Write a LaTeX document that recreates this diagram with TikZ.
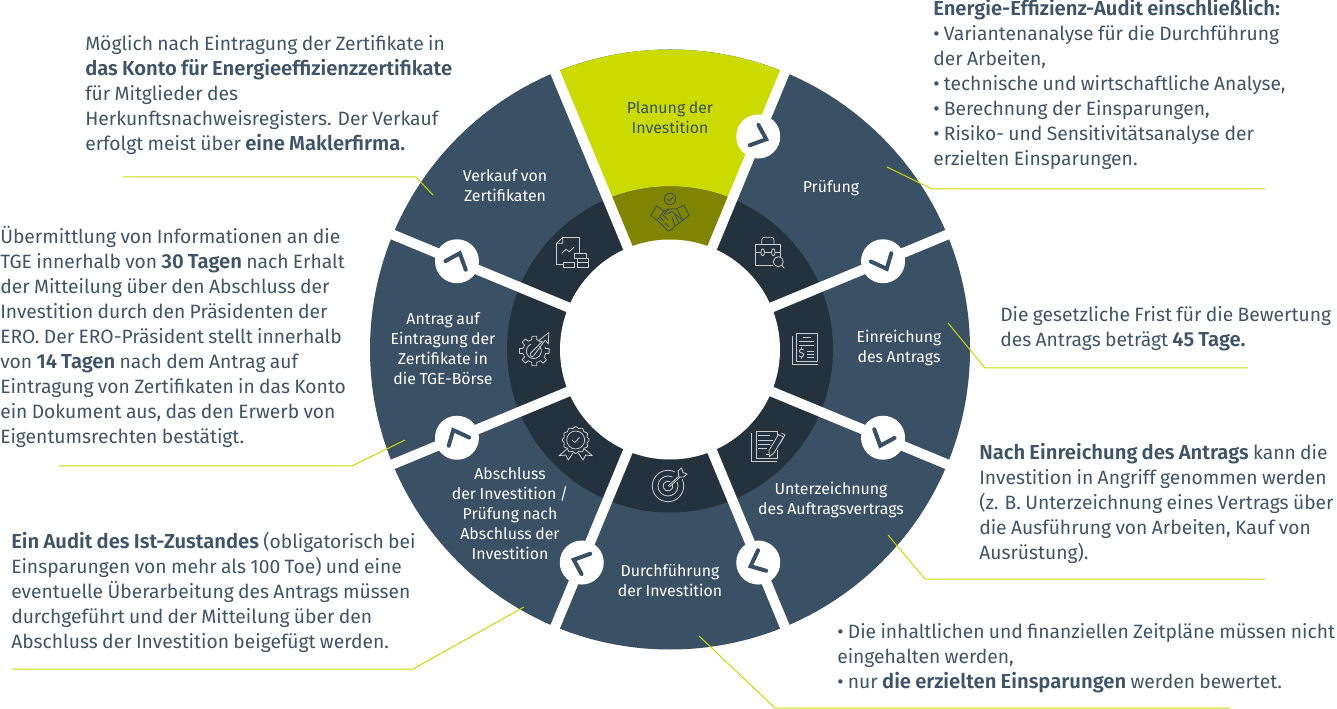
\documentclass[tikz,border=0pt]{standalone}
\usepackage{fontspec}
\setmainfont{Fira Sans}[BoldFont=* SemiBold, BoldFeatures={Scale=1.05}, WordSpace=0.85]
\usepackage{tikz}
\usetikzlibrary{arrows.meta,positioning}

\definecolor{slate}{HTML}{3A5064}
\definecolor{ringdark}{HTML}{24323E}
\definecolor{leaf}{HTML}{CBDB00}
\definecolor{olive}{HTML}{808500}
\definecolor{notecol}{HTML}{3E5468}
\definecolor{iconcol}{HTML}{C8CFD4}

\tikzset{
  iconline/.style={draw=iconcol, line width=0.6pt, line join=round},
  pics/handshake/.style={code={
    \tikzset{iconline/.style={draw=slate, line width=0.6pt, line join=round}}
    \draw[iconline] (0,13) circle (5.7);
    \draw[iconline] (-2.5,13) -- (-0.5,11) -- (3,15);
    \draw[iconline] (-19.3,-3.3) -- (-13.3,6) -- (-6,1) -- (-12.7,-8.3) -- cycle;
    \draw[iconline] (6.7,3.3) -- (14,6.7) -- (19.3,-3.3) -- (12.7,-8.3) -- cycle;
    \draw[iconline] (-6,1) -- (-2,3) -- (6.7,3.3);
    \draw[iconline] (-1,3) -- (-6,-2) -- (-2,-2) -- (2,0.5) -- (12.7,-8.3);
    \draw[iconline] (12.7,-8.3) -- (8,-12) -- (5,-14) -- (1,-18) -- (-2,-19) -- (-12.7,-8.3);
    \draw[iconline] (-10,-5) -- (-6,-9) (-7,-3) -- (-2,-8) (-5,-11) -- (-1,-15) (5,-3) -- (9,-11) (2,-5) -- (5,-14);
  }},
  pics/report/.style={code={
    \draw[iconline] (-10.3,15.7) -- (6.3,15.7) -- (6.3,-0.3);
    \draw[iconline] (-16.3,9.7) -- (-16.3,-11) -- (-10.3,-11);
    \draw[iconline] (-16.3,9.7) -- (-10.3,15.7) -- (-10.3,9.7) -- cycle;
    \draw[iconline] (-11.3,-0.3) -- (-7,3.7) -- (-3.7,1.3) -- (1,5.7);
    \draw[iconline] (1.7,-0.3) rectangle (13,-5.3);
    \draw[iconline] (4.3,-5.3) rectangle (15.7,-9.7);
    \draw[iconline] (4.3,-9.7) rectangle (15.7,-14.3);
    \draw[iconline] (-9.7,-9.7) rectangle (1.7,-14.3);
  }},
  pics/briefcase/.style={code={
    \draw[iconline] (11.7,-4.7) -- (11.7,8) -- (-14,8) -- (-14,-13) -- (3.7,-13);
    \draw[iconline] (-7.3,8) -- (-7.3,12) arc[start angle=180,end angle=90,radius=2.7] -- (2.3,14.7) arc[start angle=90,end angle=0,radius=2.7] -- (5,8);
    \draw[iconline] (-14,-0.3) -- (11.7,-0.3);
    \draw[iconline, fill=ringdark] (-6.3,-0.3) ellipse (1.8 and 3.6);
    \draw[iconline, fill=ringdark] (4.3,-0.3) ellipse (1.8 and 3.6);
    \draw[iconline] (9.3,-9.7) circle (5);
    \draw[iconline] (12.9,-13.3) -- (15.3,-16.3);
  }},
  pics/gearup/.style={code={
    \foreach \ang in {0,-45,-90,-135,-180,-225,-270}
      \draw[iconline] ({\ang+22}:11.5) -- ({\ang+13}:11.5) -- ({\ang+9}:15) -- ({\ang-9}:15) -- ({\ang-13}:11.5) -- ({\ang-22}:11.5);
    \draw[iconline] (-3.5,-2) -- (8,9.5) -- (4,10) -- (14.5,18.5) -- (14,7) -- (11,11) -- (-0.5,-4.5);
    \draw[iconline] (-3.5,-2) arc[start angle=135,end angle=315,radius=2.1];
    \draw[iconline] (-3,7) arc[start angle=110,end angle=400,radius=7.5];
  }},
  pics/invoicedoc/.style={code={
    \draw[iconline] (-8.3,15.7) rectangle (12.7,-12.7);
    \draw[iconline] (-12.7,13) -- (-12.7,-15) -- (12.7,-15);
    \draw[iconline] (-2.3,11.3) -- (5.7,11.3);
    \draw[iconline] (-6,7.3) -- (9,7.3);
    \draw[iconline] (-6,3.7) -- (9,3.7);
    \draw[iconline] (2,-2.7) -- (8.5,-2.7);
    \draw[iconline] (2,-5.3) -- (8.5,-5.3);
    \draw[iconline] (2,-8.3) -- (8.5,-8.3);
    \node[iconcol, font=\fontsize{9}{9}\selectfont, inner sep=0pt] (dollar) at (-3.5,-4.5) {\$};
  }},
  pics/signdoc/.style={code={
    \draw[iconline] (10.7,8) -- (10.7,13.3) -- (-11,13.3) -- (-11,-13.3) -- (10.7,-13.3) -- (10.7,-5);
    \draw[iconline] (-15.3,11.7) -- (-15.3,-16.7) -- (9.7,-16.7);
    \draw[iconline] (-8.7,9.3) -- (3,9.3);
    \draw[iconline] (-8.7,5) -- (6.3,5);
    \draw[iconline] (-8.7,1) -- (3,1);
    \draw[iconline] (-8.7,-3.3) -- (-0.3,-3.3);
    \draw[iconline] (-1,-9.3) -- (6.3,-9.3);
    \draw[iconline, fill=ringdark] (11.5,10.5) -- (16.5,8) -- (7,-8) -- (2.3,-11.7) -- (2,-5.5) -- cycle;
    \draw[iconline] (14.5,12) -- (18,10) -- (13,1.5);
  }},
  pics/rosette/.style={code={
    \draw[iconline] plot[domain=0:360, samples=97, smooth] ({0.7+(12.6+0.8*cos(12*\x))*cos(\x)},{4+(12.6+0.8*cos(12*\x))*sin(\x)}) -- cycle;
    \draw[iconline] (0.7,4) circle (9);
    \draw[iconline] (-3,4) -- (-0.3,1.5) -- (4.5,6.5);
    \draw[iconline] (-8,-5) -- (-16,-11.7) -- (-9.3,-11) -- (-6.7,-16) -- (-2,-9);
    \draw[iconline] (9.4,-5) -- (17.4,-11.7) -- (10.7,-11) -- (8,-16) -- (3.4,-9);
  }},
  pics/targetdart/.style={code={
    \draw[iconline] (65:15.7) arc[start angle=65,end angle=385,radius=15.7];
    \draw[iconline] (65:10) arc[start angle=65,end angle=385,radius=10];
    \draw[iconline] (65:5) arc[start angle=65,end angle=385,radius=5];
    \draw[iconline] (0,0) -- (11,10);
    \draw[iconline] (1.5,-1) -- (12,9);
    \draw[iconline] (11,10) -- (10,15) -- (13.5,18) -- (15,13.5) -- (19,12) -- (15.5,9) -- (12,9);
  }},
  seglabel/.style={text=white, align=center, inner sep=0pt,
    font=\fontsize{11.9}{15}\selectfont},
  note/.style={text=notecol, align=left, inner sep=0pt, anchor=west,
    font=\fontsize{14.45}{18.75}\selectfont},
  leader/.style={draw=leaf, line width=0.75pt},
  spoke/.style={draw=white, line width=7.5pt},
  chevron/.style={draw=slate, line width=3pt, line cap=round},
}

\begin{document}
\begin{tikzpicture}[x=0.75pt, y=0.75pt]
\useasboundingbox (-670,-359.5) rectangle (667,349.5);

% wheel
\fill[slate] (0,0) circle (300);
\fill[leaf] (0,0) -- (67.5:300) arc[start angle=67.5,end angle=112.5,radius=300] -- cycle;
\fill[ringdark] (0,0) circle (163);
\fill[olive] (0,0) -- (67.5:163) arc[start angle=67.5,end angle=112.5,radius=163] -- cycle;
\fill[white] (0,0) circle (110);

% gaps between the segments
\foreach \ang in {22.5,67.5,...,337.5}
  \draw[spoke] (\ang:105) -- (\ang:305);

% clock marks on the gaps
\foreach \step in {0,...,6} {
  \fill[white] ({67.5-45*\step}:230.6) circle (22);
  \draw[chevron, shift={({67.5-45*\step}:230.6)}, rotate={-45*\step}]
    (0.2,11.5) -- (8,-2.8) -- (-8.5,-8.8);
}

% segment captions
\node[seglabel, text=slate] (planung) at (0,231.5) {Planung der\\Investition};
\node[seglabel] (pruefung) at (161,161.5) {Prüfung};
\node[seglabel] (einreichung) at (229,1.5) {Einreichung\\des Antrags};
\node[seglabel] (unterzeichnung) at (161,-150.5) {Unterzeichnung\\des Auftragsvertrags};
\node[seglabel] (durchfuehrung) at (0,-231.5) {Durchführung\\der Investition};
\node[seglabel] (abschluss) at (-160,-164) {Abschluss\\der Investition /\\Prüfung nach\\Abschluss der\\Investition};
\node[seglabel] (antrag) at (-227,0.5) {Antrag auf\\Eintragung der\\Zertifikate in\\die TGE-Börse};
\node[seglabel] (verkauf) at (-165,164) {Verkauf von\\Zertifikaten};

% icons on the inner ring
\pic at (0,137.5) {handshake};
\pic at (99,97.5) {briefcase};
\pic at (135,0.5) {invoicedoc};
\pic at (97,-95.5) {signdoc};
\pic at (-2,-136.5) {targetdart};
\pic at (-95,-94.5) {rosette};
\pic at (-135.7,-1.5) {gearup};
\pic at (-97,96.5) {report};

% notes
\node[note] (noteverkauf) at (-585,254.5) {Möglich nach Eintragung der Zertifikate in\\
  \textbf{das Konto für Energieeffizienzzertifikate}\\
  für Mitglieder des\\
  Herkunftsnachweisregisters. Der Verkauf\\
  erfolgt meist über \textbf{eine Maklerfirma.}};
\node[note] (noteantrag) at (-670,12.5) {Übermittlung von Informationen an die\\
  TGE innerhalb von \textbf{30 Tagen} nach Erhalt\\
  der Mitteilung über den Abschluss der\\
  Investition durch den Präsidenten der\\
  ERO. Der ERO-Präsident stellt innerhalb\\
  von \textbf{14 Tagen} nach dem Antrag auf\\
  Eintragung von Zertifikaten in das Konto\\
  ein Dokument aus, das den Erwerb von\\
  Eigentumsrechten bestätigt.};
\node[note] (noteabschluss) at (-659,-243) {\textbf{Ein Audit des Ist-Zustandes} (obligatorisch bei\\
  Einsparungen von mehr als 100 Toe) und eine\\
  eventuelle Überarbeitung des Antrags müssen\\
  durchgeführt und der Mitteilung über den\\
  Abschluss der Investition beigefügt werden.};
\node[note] (notepruefung) at (263,265.5) {\textbf{Energie-Effizienz-Audit einschließlich:}\\
  • Variantenanalyse für die Durchführung\\
  der Arbeiten,\\
  • technische und wirtschaftliche Analyse,\\
  • Berechnung der Einsparungen,\\
  • Risiko- und Sensitivitätsanalyse der\\
  erzielten Einsparungen.};
\node[note] (noteeinreichung) at (330,20.5) {Die gesetzliche Frist für die Bewertung\\
  des Antrags beträgt \textbf{45 Tage.}};
\node[note] (noteunterz) at (309,-153.5) {\textbf{Nach Einreichung des Antrags} kann die\\
  Investition in Angriff genommen werden\\
  (z. B. Unterzeichnung eines Vertrags über\\
  die Ausführung von Arbeiten, Kauf von\\
  Ausrüstung).};
\node[note] (notedurch) at (167,-308.5) {• Die inhaltlichen und finanziellen Zeitpläne müssen nicht\\
  eingehalten werden,\\
  • nur \textbf{die erzielten Einsparungen} werden bewertet.};

% leader lines
\coordinate (tipverkauf) at (-237,154.5);
\coordinate (endverkauf) at (-547,172.5);
\draw[leader] (tipverkauf) -- (-254,172.5) -- (endverkauf);
\coordinate (tippruefung) at (217,182.5);
\coordinate (endpruefung) at (595,160.5);
\draw[leader] (tippruefung) -- (262,160.5) -- (endpruefung);
\coordinate (tipeinreichung) at (278,26.5);
\coordinate (endeinreichung) at (578,-18.5);
\draw[leader] (tipeinreichung) -- (315,-18.5) -- (endeinreichung);
\coordinate (tipunterz) at (218,-185.5);
\coordinate (endunterz) at (595,-229.5);
\draw[leader] (tipunterz) -- (255,-229.5) -- (endunterz);
\coordinate (tipdurch) at (29,-286.5);
\coordinate (enddurch) at (560,-358.5);
\draw[leader] (tipdurch) -- (105,-358.5) -- (enddurch);
\coordinate (tipabschluss) at (-146,-257.5);
\coordinate (endabschluss) at (-658,-319.5);
\draw[leader] (tipabschluss) -- (-257,-319.5) -- (endabschluss);
\coordinate (tipantrag) at (-265,-90.5);
\coordinate (endantrag) at (-611,-116.5);
\draw[leader] (tipantrag) -- (-318,-116.5) -- (endantrag);

\end{tikzpicture}
\end{document}
